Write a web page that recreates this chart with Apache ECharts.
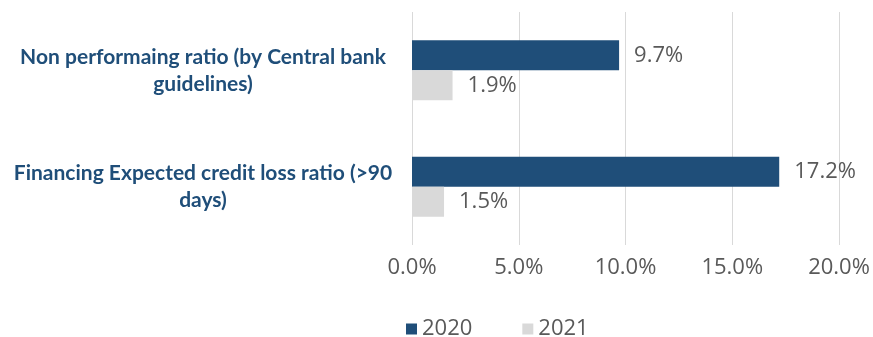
<!DOCTYPE html>
<html>
<head>
<meta charset="utf-8">
<script src="https://cdn.jsdelivr.net/npm/echarts@6/dist/echarts.min.js"></script>
<style>html,body{margin:0;padding:0;background:#fff;}#c{width:873px;height:337px;}</style>
</head>
<body>
<div id="c"></div>
<script>
var categories = ["Non performaing ratio (by Central bank\nguidelines)", "Financing Expected credit loss ratio (>90\ndays)"];
var seriesNames = ["2020", "2021"];
var values2020 = [9.7, 17.2];
var values2021 = [1.9, 1.5];
var tickMin = 0, tickMax = 20, tickStep = 5;

var NUMFONT = 'Open Sans';
var CATFONT = 'Lato';
var chart = echarts.init(document.getElementById('c'), null, {renderer: 'canvas'});
function pct(v){ return v.toFixed(1) + '%'; }
var labelStyle = {show: true, position: 'right', distance: 15, color: '#595959', fontSize: 22, fontFamily: NUMFONT,
  formatter: function(p){ return pct(p.value); }};
chart.setOption({
  animation: false,
  backgroundColor: '#ffffff',
  grid: {left: 412, right: 34, top: 12, bottom: 92, containLabel: false},
  legend: {
    data: seriesNames, left: 401, top: 313, icon: 'rect', itemWidth: 11, itemHeight: 11, itemGap: 50,
    textStyle: {color: '#595959', fontSize: 22, fontFamily: NUMFONT}
  },
  xAxis: {
    type: 'value', min: tickMin, max: tickMax, interval: tickStep,
    axisLine: {show: false}, axisTick: {show: false},
    splitLine: {lineStyle: {color: '#D9D9D9', width: 1}},
    axisLabel: {color: '#595959', fontSize: 22, fontFamily: NUMFONT, margin: 12, formatter: function(v){ return pct(v); }}
  },
  yAxis: {
    type: 'category', data: categories, inverse: true,
    axisLine: {show: false}, axisTick: {show: false},
    axisLabel: {color: '#1F4E79', fontWeight: 'bold', fontSize: 21, fontFamily: CATFONT, align: 'center', margin: 209, lineHeight: 27}
  },
  series: [
    {name: seriesNames[0], type: 'bar', data: values2020, barWidth: 30, barGap: '0%',
     itemStyle: {color: '#1F4E79'}, label: labelStyle},
    {name: seriesNames[1], type: 'bar', data: values2021, barWidth: 30, barGap: '0%',
     itemStyle: {color: '#D9D9D9'}, label: labelStyle}
  ]
});
</script>
</body>
</html>
